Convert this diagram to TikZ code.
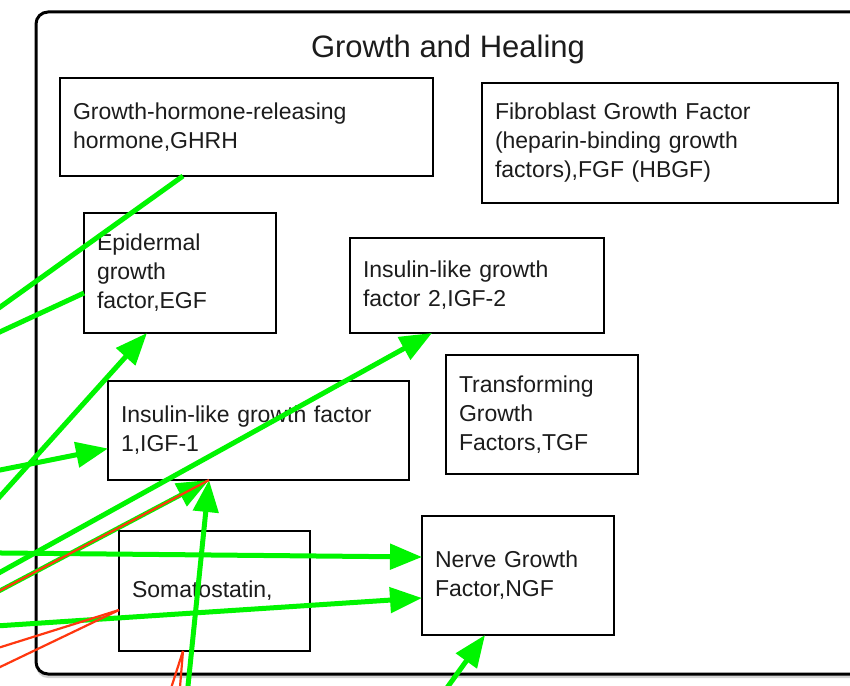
\documentclass[tikz,border=0pt]{standalone}
\usepackage{fontspec}
\setmainfont{Liberation Sans}
\usetikzlibrary{arrows.meta,shadows,calc}

\definecolor{linkgreen}{RGB}{0,245,0}
\definecolor{linkred}{RGB}{255,55,15}
\definecolor{ink}{RGB}{28,28,28}

\begin{document}
\begin{tikzpicture}[x=1pt,y=-1pt,
  panel/.style={draw=black, line width=3pt, fill=white, rounded corners=12pt,
    anchor=north west, inner sep=0pt, outer sep=0pt,
    drop shadow={shadow xshift=0pt, shadow yshift=-4pt, opacity=0.35}},
  heading/.style={font=\fontsize{31}{36}\selectfont, text=ink, anchor=base, inner sep=0pt},
  topic/.style={draw=black, line width=2.5pt, fill=white, rectangle,
    inner xsep=13pt, inner ysep=0pt, outer sep=0pt, align=left, anchor=north west,
    font=\fontsize{23}{29}\selectfont, text=ink},
  link/.style={draw=linkgreen, line width=5pt},
  tip/.style={-{Triangle[length=32pt,width=25pt]}},
  redlink/.style={draw=linkred, line width=2.2pt},
]
\useasboundingbox (0,0) rectangle (850,685);
\clip (0,0) rectangle (850,685);

% container panel and its heading
\node[panel, minimum width=850pt, minimum height=662pt] (panel) at (36,12) {};
\node[heading] (title) at (448,58) {Growth and Healing};

% topic boxes
\node[topic, text width=347pt, minimum height=98pt] (ghrh) at (60,78)
  {Growth-hormone-releasing\\hormone,GHRH};
\node[topic, text width=330pt, minimum height=120pt] (fgf) at (482,83)
  {Fibroblast Growth Factor\\(heparin-binding growth\\factors),FGF (HBGF)};
\node[topic, text width=166pt, minimum height=120pt] (egf) at (84,213)
  {Epidermal\\growth\\factor,EGF};
\node[topic, text width=228pt, minimum height=95pt] (igf2) at (350,238)
  {Insulin-like growth\\factor 2,IGF-2};
\node[topic, text width=275pt, minimum height=99pt] (igf1) at (108,381)
  {Insulin-like growth factor\\1,IGF-1};
\node[topic, text width=166pt, minimum height=119pt] (tgf) at (446,355)
  {Transforming\\Growth\\Factors,TGF};
\node[topic, text width=165pt, minimum height=120pt] (soma) at (119,531)
  {Somatostatin,};
\node[topic, text width=166pt, minimum height=119pt] (ngf) at (422,516)
  {Nerve Growth\\Factor,NGF};

% far ends of links that leave the panel
\coordinate (outA) at (-50,343);
\coordinate (outB) at (-50,355);
\coordinate (outC) at (-50,552);
\coordinate (outD) at (-50,480);
\coordinate (outE) at (-50,600);
\coordinate (outF) at (-50,617);
\coordinate (outG) at (183,735);
\coordinate (outH) at (-50,552.5);
\coordinate (outI) at (-50,629);
\coordinate (outJ) at (413,735);
\coordinate (outK) at (-50,663);
\coordinate (outL) at (-50,691);
\coordinate (outM) at (156,735);
\coordinate (outN) at (176,735);

% green links
\draw[link] ($(ghrh.south west)+(123,0)$) -- (outA);
\draw[link] ($(egf.west)+(0,20)$) -- (outB);
\draw[link,tip] (outC) -- ($(egf.south west)+(63,0)$);
\draw[link,tip] (outD) -- ($(igf1.west)+(0,18)$);
\draw[link,tip] (outE) -- ($(igf2.south west)+(82,0)$);
\draw[link,line width=4.5pt,tip] (outF) -- ($(igf1.south west)+(101,0)$);
\draw[link,tip] (outG) -- ($(igf1.south west)+(101,0)$);
\draw[link,tip] (outH) -- ($(ngf.west)+(0,-18.5)$);
\draw[link,tip] (outI) -- ($(ngf.west)+(0,22.5)$);
\draw[link,tip] (outJ) -- ($(ngf.south west)+(63,0)$);

% red links
\draw[redlink] ($(igf1.south west)+(101,0)$) -- (outF);
\draw[redlink] ($(soma.west)+(0,19)$) -- (outK);
\draw[redlink] ($(soma.west)+(0,19)$) -- (outL);
\draw[redlink] ($(soma.south west)+(64,0)$) -- (outM);
\draw[redlink] ($(soma.south west)+(64,0)$) -- (outN);
\end{tikzpicture}
\end{document}
